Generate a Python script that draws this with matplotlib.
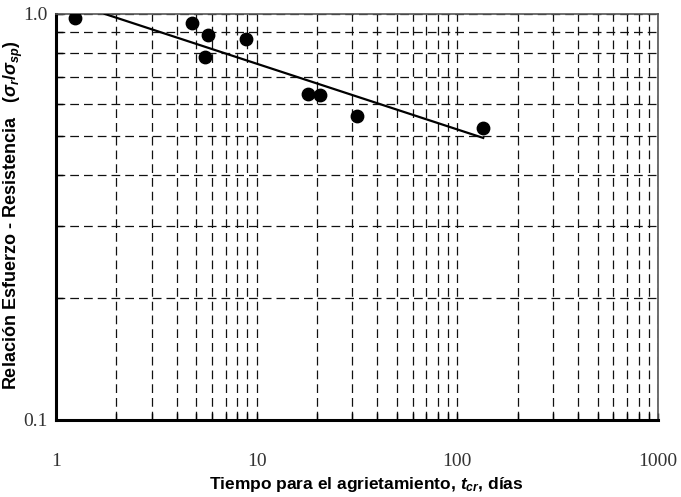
import matplotlib
matplotlib.use("Agg")
import matplotlib.pyplot as plt
from matplotlib.ticker import FixedLocator, FixedFormatter, LogLocator, NullFormatter

# datos
tiempo = [1.24, 4.75, 5.7, 5.5, 8.9, 18.1, 20.8, 31.8, 134.6]
relacion = [0.977, 0.95, 0.888, 0.784, 0.868, 0.635, 0.632, 0.561, 0.524]

# recta de ajuste (extremos)
ajuste_x = [1.75, 134.6]
ajuste_y = [1.0, 0.495]

x_ticks = [1, 10, 100, 1000]
x_labels = ["1", "10", "100", "1000"]
y_ticks = [0.1, 1.0]
y_labels = ["0.1", "1.0"]

plt.rcParams['mathtext.fontset'] = 'custom'
plt.rcParams['mathtext.rm'] = 'Liberation Sans:bold'
plt.rcParams['mathtext.bf'] = 'Liberation Sans:bold'
plt.rcParams['mathtext.it'] = 'Liberation Sans:bold:italic'

fig = plt.figure(figsize=(6.81, 4.97), dpi=100)
ax = fig.add_axes([0.0822, 0.155, 0.884, 0.817])

ax.set_xscale('log')
ax.set_yscale('log')
ax.set_xlim(1, 1000)
ax.set_ylim(0.1, 1.0)

ax.plot(ajuste_x, ajuste_y, color='black', lw=1.6, zorder=3)
ax.scatter(tiempo, relacion, s=80, color='black', zorder=4)

# rejilla discontinua
ax.grid(True, which='both', color='#111111', linestyle=(0, (7, 4)), linewidth=0.9)

ax.xaxis.set_major_locator(FixedLocator(x_ticks))
ax.xaxis.set_major_formatter(FixedFormatter(x_labels))
ax.xaxis.set_minor_locator(LogLocator(base=10, subs=range(2, 10)))
ax.xaxis.set_minor_formatter(NullFormatter())
ax.yaxis.set_major_locator(FixedLocator(y_ticks))
ax.yaxis.set_major_formatter(FixedFormatter(y_labels))
ax.yaxis.set_minor_locator(LogLocator(base=10, subs=range(2, 10)))
ax.yaxis.set_minor_formatter(NullFormatter())

ax.tick_params(which='both', direction='in', length=5, width=1, colors='black')
ax.tick_params(axis='x', which='major', pad=24, labelsize=14)
ax.tick_params(axis='y', which='major', pad=6, labelsize=14)
for lbl in ax.get_xticklabels() + ax.get_yticklabels():
    lbl.set_family('Liberation Serif')
    lbl.set_color('#333333')

for s in ['left', 'bottom']:
    ax.spines[s].set_linewidth(2.2)
    ax.spines[s].set_color('black')
for s in ['top', 'right']:
    ax.spines[s].set_linewidth(1.2)
    ax.spines[s].set_color('#555555')

ax.set_xlabel(r'Tiempo para el agrietamiento, $t_{cr}$, días',
              fontsize=12.5, fontweight='bold', family='Liberation Sans')
ax.set_ylabel(r'Relación Esfuerzo - Resistencia   ($\sigma_r/\sigma_{sp}$)',
              fontsize=13, fontweight='bold', family='Liberation Sans')
ax.xaxis.set_label_coords(0.515, -0.135)
ax.yaxis.set_label_coords(-0.052, 0.505)

fig.savefig('out.png', dpi=100)
